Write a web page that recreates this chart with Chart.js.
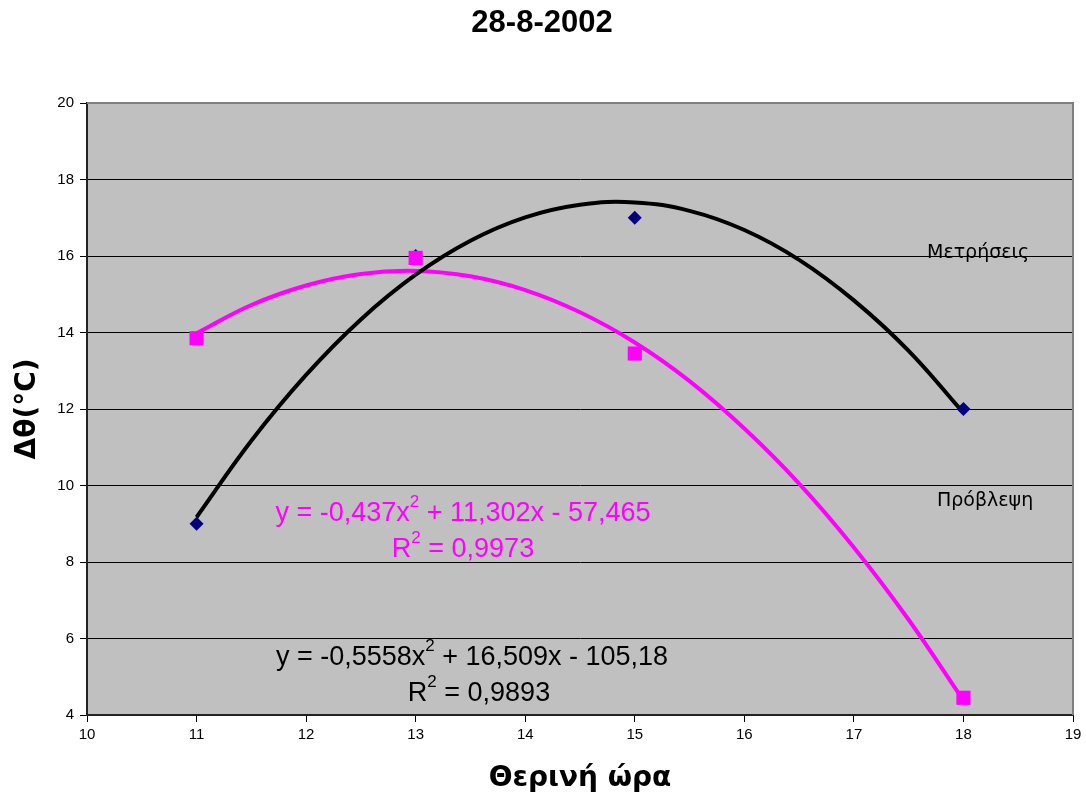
<!DOCTYPE html>
<html>
<head>
<meta charset="utf-8">
<script src="https://cdn.jsdelivr.net/npm/chart.js@4/dist/chart.umd.min.js"></script>
<style>
  html, body { margin: 0; padding: 0; background: #fff; }
  #wrap { width: 1086px; height: 798px; }
</style>
</head>
<body>
<div id="wrap"><canvas id="myChart" width="1086" height="798"></canvas></div>
<script>
// measured points
const hours = [11, 13, 15, 18];
const measured = [9, 16, 17, 12];
const predicted = [13.85, 15.95, 13.45, 4.45];

// trend curves, every half hour
const curveHours = [11, 11.5, 12, 12.5, 13, 13.5, 14, 14.5, 15, 15.5, 16, 16.5, 17, 17.5, 18];
const measuredCurve = [9.17, 11.17, 12.89, 14.34, 15.51, 16.40, 17.01, 17.34, 17.40, 17.18, 16.68, 15.90, 14.84, 13.52, 11.90];
const predictedCurve = [13.98, 14.72, 15.23, 15.53, 15.61, 15.47, 15.11, 14.53, 13.74, 12.73, 11.49, 10.05, 8.38, 6.49, 4.38];

const title = '28-8-2002';
const xTitle = 'Θερινή ώρα';
const yTitle = 'Δθ(°C)';
const seriesNames = ['Μετρήσεις', 'Πρόβλεψη'];
const predEq = [['y = -0,437x', false], ['2', true], [' + 11,302x - 57,465', false]];
const predR2 = [['R', false], ['2', true], [' = 0,9973', false]];
const measEq = [['y = -0,5558x', false], ['2', true], [' + 16,509x - 105,18', false]];
const measR2 = [['R', false], ['2', true], [' = 0,9893', false]];

function pts(xs, ys) {
    return xs.map((x, i) => ({ x: x, y: ys[i] }));
}

function drawParts(ctx, parts, cx, cy, color) {
    const big = '27px "Liberation Sans", Arial, sans-serif';
    const small = '17px "Liberation Sans", Arial, sans-serif';
    let total = 0;
    parts.forEach(p => { ctx.font = p[1] ? small : big; total += ctx.measureText(p[0]).width; });
    let x = cx - total / 2;
    ctx.fillStyle = color;
    ctx.textAlign = 'left';
    ctx.textBaseline = 'middle';
    parts.forEach(p => {
        ctx.font = p[1] ? small : big;
        ctx.fillText(p[0], x, p[1] ? cy - 12 : cy);
        x += ctx.measureText(p[0]).width;
    });
}

const decor = {
    id: 'decor',
    beforeDraw(chart) {
        const a = chart.chartArea, ctx = chart.ctx;
        ctx.save();
        ctx.fillStyle = '#fff';
        ctx.fillRect(0, 0, chart.width, chart.height);
        ctx.fillStyle = '#c0c0c0';
        ctx.fillRect(a.left, a.top, a.right - a.left, a.bottom - a.top);
        ctx.restore();
    },
    afterDatasetsDraw(chart) {
        const a = chart.chartArea, ctx = chart.ctx;
        ctx.save();
        ctx.strokeStyle = '#808080';
        ctx.lineWidth = 2;
        ctx.beginPath();
        ctx.moveTo(a.left, a.top);
        ctx.lineTo(a.right, a.top);
        ctx.lineTo(a.right, a.bottom);
        ctx.stroke();

        ctx.fillStyle = '#000';
        ctx.textAlign = 'center';
        ctx.textBaseline = 'middle';
        ctx.font = 'bold 31px "Liberation Sans", Arial, sans-serif';
        ctx.fillText(title, 542, 23);

        ctx.font = '19px "DejaVu Sans", sans-serif';
        ctx.textAlign = 'left';
        ctx.fillText(seriesNames[0], 927, 253);
        ctx.fillText(seriesNames[1], 937, 501);

        drawParts(ctx, predEq, 463, 514, '#ff00ff');
        drawParts(ctx, predR2, 463, 550, '#ff00ff');
        drawParts(ctx, measEq, 472, 658, '#000');
        drawParts(ctx, measR2, 479, 694, '#000');
        ctx.restore();
    }
};

const ctx = document.getElementById('myChart').getContext('2d');
const myChart = new Chart(ctx, {
    type: 'scatter',
    data: {
        datasets: [
            {
                label: seriesNames[1],
                data: pts(hours, predicted),
                pointStyle: 'rect', pointRadius: 10, pointHoverRadius: 10,
                backgroundColor: '#ff00ff', borderColor: '#ff00ff', borderWidth: 0,
                order: 0
            },
            {
                label: seriesNames[0],
                data: pts(hours, measured),
                pointStyle: 'rectRot', pointRadius: 7, pointHoverRadius: 7,
                backgroundColor: '#000080', borderColor: '#000080', borderWidth: 0,
                order: 1
            },
            {
                label: 'trend ' + seriesNames[0],
                data: pts(curveHours, measuredCurve),
                showLine: true, pointRadius: 0, borderColor: '#000', borderWidth: 4,
                tension: 0.4,
                order: 2
            },
            {
                label: 'trend ' + seriesNames[1],
                data: pts(curveHours, predictedCurve),
                showLine: true, pointRadius: 0, borderColor: '#ff00ff', borderWidth: 4,
                tension: 0.4,
                order: 3
            }
        ]
    },
    options: {
        responsive: false,
        animation: false,
        events: [],
        layout: { padding: { top: 103, right: 13, left: 0, bottom: 0 } },
        plugins: { legend: { display: false }, title: { display: false }, tooltip: { enabled: false } },
        scales: {
            x: {
                type: 'linear', min: 10, max: 19,
                afterFit: s => { s.height = 83; },
                ticks: { stepSize: 1, color: '#000', padding: 4, maxRotation: 0,
                         font: { family: '"Liberation Sans", Arial, sans-serif', size: 15 } },
                grid: { drawOnChartArea: false, drawTicks: true, tickLength: 7, color: '#000' },
                border: { display: true, color: '#222', width: 2 },
                title: { display: true, text: xTitle, color: '#000', padding: { top: 0, bottom: 2 },
                         font: { family: '"DejaVu Sans", sans-serif', size: 28, weight: 'bold' } }
            },
            y: {
                min: 4, max: 20,
                afterFit: s => { s.width = 87; },
                ticks: { stepSize: 2, color: '#000', padding: 6,
                         font: { family: '"Liberation Sans", Arial, sans-serif', size: 15 } },
                grid: { color: '#000', lineWidth: 1, drawTicks: true, tickLength: 7 },
                border: { display: true, color: '#222', width: 2 },
                title: { display: true, text: yTitle, color: '#000', padding: { top: 11, bottom: 0 },
                         font: { family: '"DejaVu Sans", sans-serif', size: 28, weight: 'bold' } }
            }
        }
    },
    plugins: [decor]
});
</script>
</body>
</html>
